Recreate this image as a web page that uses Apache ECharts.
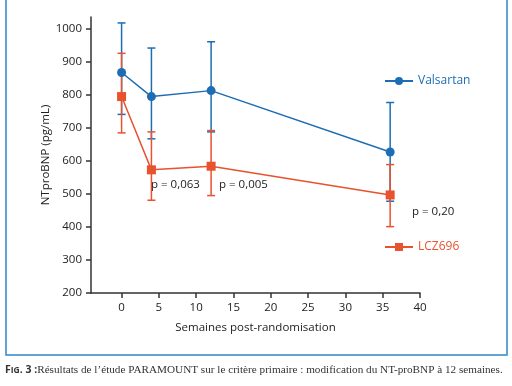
<!DOCTYPE html>
<html><head><meta charset="utf-8">
<script src="https://cdn.jsdelivr.net/npm/echarts@6/dist/echarts.min.js"></script>
<style>html,body{margin:0;padding:0;background:#fff}#c{width:512px;height:386px}</style>
</head><body><div id="c"></div>
<script>
const weeks = [0, 4, 12, 36];
const valsartan = [868, 795, 813, 627];
const valsartanLow = [741, 667, 688, 478];
const valsartanHigh = [1018, 942, 961, 777];
const lcz696 = [795, 573, 584, 497];
const lczLow = [685, 481, 495, 401];
const lczHigh = [926, 688, 692, 589];
const xTicks = [0, 5, 10, 15, 20, 25, 30, 35, 40];
const yTicks = [200, 300, 400, 500, 600, 700, 800, 900, 1000];
const pTexts = ['p = 0,063', 'p = 0,005', 'p = 0,20'];

const BLUE = '#1c6db4', RED = '#e8522f', INK = '#222';
const FONT = '"Open Sans", "Noto Sans", sans-serif';

function errSeries(name, lo, hi, color) {
  return {
    type: 'custom', name: name + ' err', silent: true, z: 1,
    data: weeks.map((w, i) => [w, lo[i], hi[i]]),
    renderItem: (params, api) => {
      const a = api.coord([api.value(0), api.value(1)]);
      const b = api.coord([api.value(0), api.value(2)]);
      const hw = 4;
      const st = { stroke: color, lineWidth: 1.5 };
      return { type: 'group', children: [
        { type: 'line', shape: { x1: a[0], y1: a[1], x2: b[0], y2: b[1] }, style: st },
        { type: 'line', shape: { x1: a[0] - hw, y1: a[1], x2: a[0] + hw, y2: a[1] }, style: st },
        { type: 'line', shape: { x1: b[0] - hw, y1: b[1], x2: b[0] + hw, y2: b[1] }, style: st }
      ]};
    }
  };
}

const chart = echarts.init(document.getElementById('c'), null, { renderer: 'canvas' });
chart.setOption({
  animation: false,
  textStyle: { fontFamily: FONT },
  grid: { left: 91, right: 92, top: 17, bottom: 93 },
  legend: [
    { data: ['Valsartan'], left: 379, top: 70, itemWidth: 28, itemHeight: 10, itemGap: 4,
      textStyle: { color: BLUE, fontSize: 12, fontFamily: FONT } },
    { data: ['LCZ696'], left: 379, top: 236, itemWidth: 28, itemHeight: 10, itemGap: 4,
      textStyle: { color: RED, fontSize: 12, fontFamily: FONT } }
  ],
  xAxis: {
    type: 'value', min: -4.1, max: 40,
    name: 'Semaines post-randomisation', nameLocation: 'middle', nameGap: 29,
    nameTextStyle: { color: INK, fontSize: 11.5, fontFamily: FONT },
    axisLine: { onZero: false, lineStyle: { color: '#333', width: 1.5 } },
    axisTick: { length: 5, customValues: xTicks, lineStyle: { color: '#333', width: 1.5 } },
    axisLabel: { customValues: xTicks, color: INK, fontSize: 11.5, margin: 9 },
    splitLine: { show: false }
  },
  yAxis: {
    type: 'value', min: 200, max: 1036,
    name: 'NTproBNP (pg/mL)', nameLocation: 'middle', nameGap: 39, nameMoveOverlap: false,
    nameTextStyle: { color: INK, fontSize: 11.5, fontFamily: FONT },
    axisLine: { show: true, onZero: false, lineStyle: { color: '#333', width: 1.5 } },
    axisTick: { show: true, length: 5, customValues: yTicks, lineStyle: { color: '#333', width: 1.5 } },
    axisLabel: { customValues: yTicks, color: INK, fontSize: 11.5, margin: 9, formatter: v => String(v) },
    splitLine: { show: false }
  },
  series: [
    errSeries('Valsartan', valsartanLow, valsartanHigh, BLUE),
    errSeries('LCZ696', lczLow, lczHigh, RED),
    { type: 'line', name: 'Valsartan', z: 3, data: weeks.map((w, i) => [w, valsartan[i]]),
      symbol: 'circle', symbolSize: 9, color: BLUE,
      lineStyle: { color: BLUE, width: 1.5 }, itemStyle: { color: BLUE } },
    { type: 'line', name: 'LCZ696', z: 2, data: weeks.map((w, i) => [w, lcz696[i]]),
      symbol: 'rect', symbolSize: 9, color: RED,
      lineStyle: { color: RED, width: 1.5 }, itemStyle: { color: RED } }
  ],
  graphic: [
    { type: 'rect', shape: { x: 6, y: -5, width: 501, height: 360 },
      style: { fill: 'none', stroke: '#2f86c8', lineWidth: 1.5 }, silent: true },
    { type: 'text', left: 151, top: 179, style: { text: pTexts[0], fill: INK, fontSize: 11.5, fontFamily: FONT } },
    { type: 'text', left: 219, top: 179, style: { text: pTexts[1], fill: INK, fontSize: 11.5, fontFamily: FONT } },
    { type: 'text', left: 412, top: 206, style: { text: pTexts[2], fill: INK, fontSize: 11.5, fontFamily: FONT } },
    { type: 'text', left: 5, top: 365, style: {
        rich: {
          b: { fontFamily: FONT, fontWeight: 'bold', fontSize: 10.5, fill: '#333' },
          s: { fontFamily: FONT, fontWeight: 'bold', fontSize: 8.5, fill: '#333' },
          t: { fontFamily: '"Liberation Serif", "DejaVu Serif", serif', fontSize: 11.2, fill: '#333' }
        },
        text: '{b|F}{s|IG}{b|. 3 :}{t|Résultats de l\u2019étude PARAMOUNT sur le critère primaire : modification du NT-proBNP à 12 semaines.}'
      } }
  ]
});
</script></body></html>
